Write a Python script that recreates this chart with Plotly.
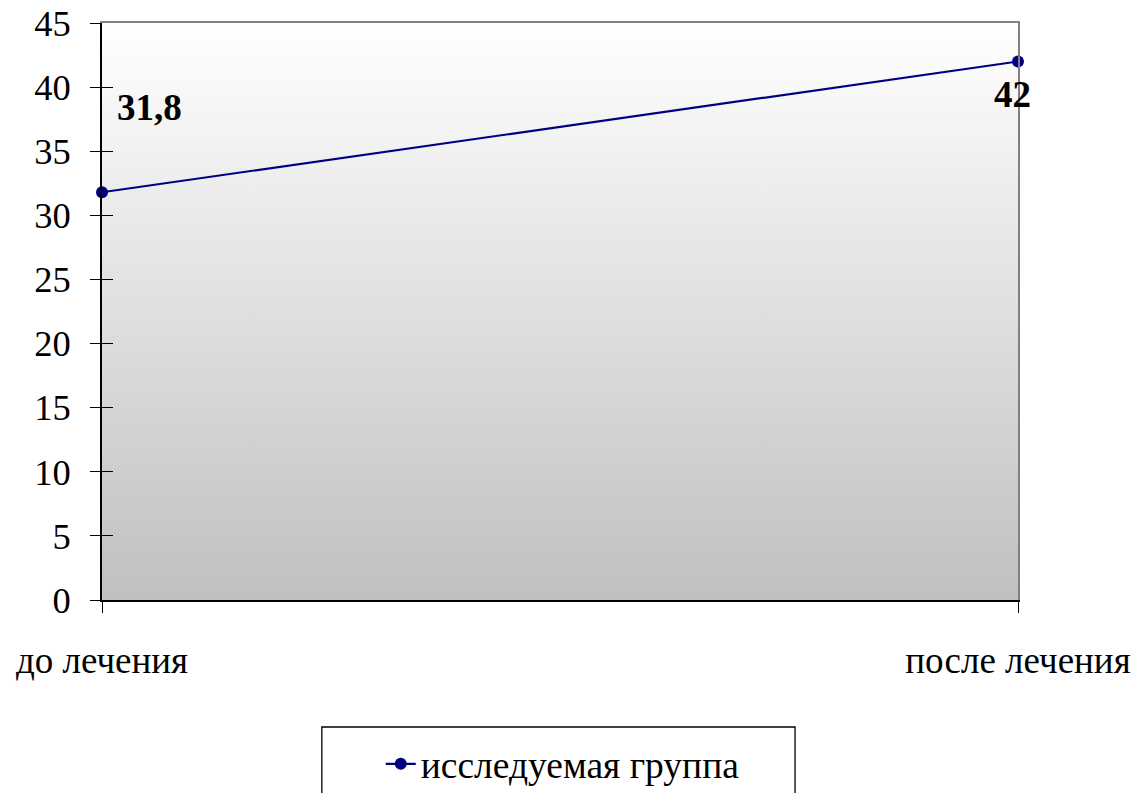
import base64
import plotly.graph_objects as go

categories = ["до лечения", "после лечения"]
values = [31.8, 42]
label_texts = ["31,8", "42"]
series_name = "исследуемая группа"
y_ticks = [0, 5, 10, 15, 20, 25, 30, 35, 40, 45]

FONT = "Liberation Serif, Times New Roman, serif"
NAVY = "#000080"

svg = ('<svg xmlns="http://www.w3.org/2000/svg" width="100" height="100" '
       'preserveAspectRatio="none" viewBox="0 0 100 100">'
       '<defs><linearGradient id="g" x1="0" y1="0" x2="0" y2="1">'
       '<stop offset="0" stop-color="#ffffff"/><stop offset="1" stop-color="#c0c0c0"/>'
       '</linearGradient></defs><rect width="100" height="100" fill="url(#g)"/></svg>')
bg_uri = "data:image/svg+xml;base64," + base64.b64encode(svg.encode()).decode()

fig = go.Figure()

# invisible helper traces so the overlay axes (border + cross ticks) get rendered
fig.add_trace(go.Scatter(x=categories, y=values, xaxis="x2", yaxis="y2",
                         showlegend=False, hoverinfo="skip", mode="markers",
                         marker=dict(opacity=0)))
fig.add_trace(go.Scatter(x=categories, y=values, xaxis="x3", yaxis="y3",
                         showlegend=False, hoverinfo="skip", mode="markers",
                         marker=dict(opacity=0)))

fig.add_trace(go.Scatter(
    x=categories, y=values, mode="lines+markers", name=series_name,
    line=dict(color=NAVY, width=2.2),
    marker=dict(color=NAVY, size=12, symbol="circle"),
    cliponaxis=False,
))

shifts = [(47, 85), (-6, -33)]
for c, v, t, (dx, dy) in zip(categories, values, label_texts, shifts):
    fig.add_annotation(x=c, y=v, text="<b>" + t + "</b>", showarrow=False,
                       xshift=dx, yshift=dy,
                       font=dict(family=FONT, size=37, color="black"))

fig.add_layout_image(source=bg_uri, xref="paper", yref="paper", x=0, y=1,
                     sizex=1, sizey=1, xanchor="left", yanchor="top",
                     sizing="stretch", layer="below")

cat_axis = dict(type="category", categoryorder="array", categoryarray=categories,
                range=[0, 1], showgrid=False, zeroline=False, automargin=False)
val_axis = dict(range=[0, 45], tickvals=y_ticks, showgrid=False, zeroline=False,
                automargin=False)

fig.update_layout(
    width=1133, height=785,
    margin=dict(l=94, r=123, t=15, b=193, autoexpand=False),
    paper_bgcolor="white", plot_bgcolor="rgba(0,0,0,0)",
    font=dict(family=FONT, size=37, color="black"),
    showlegend=True,
    legend=dict(orientation="h", x=0.503, xanchor="center", yref="container",
                y=0.037, yanchor="middle", bgcolor="rgba(0,0,0,0)",
                font=dict(family=FONT, size=37.5, color="black")),
    xaxis=dict(**cat_axis, showline=True, linecolor="black", linewidth=2,
               ticks="outside", ticklen=11, tickcolor="black",
               ticklabelstandoff=16, ticklabeloverflow="allow",
               tickfont=dict(family=FONT, size=37)),
    yaxis=dict(**val_axis, showline=True, linecolor="black", linewidth=2,
               ticks="outside", ticklen=10, tickcolor="black",
               ticklabelstandoff=12, ticklabeloverflow="allow",
               tickfont=dict(family=FONT, size=36.5)),
    xaxis2=dict(**cat_axis, overlaying="x", side="top", anchor="y2",
                showline=True, linecolor="#808080", linewidth=2,
                showticklabels=False, ticks=""),
    yaxis2=dict(**val_axis, overlaying="y", side="right", anchor="x2",
                showline=True, linecolor="#808080", linewidth=2,
                showticklabels=False, ticks=""),
    xaxis3=dict(**cat_axis, overlaying="x", side="bottom", anchor="y3",
                showline=False, showticklabels=False, ticks="inside",
                ticklen=11, tickcolor="black", layer="above traces"),
    yaxis3=dict(**val_axis, overlaying="y", side="left", anchor="x3",
                showline=False, showticklabels=False, ticks="inside",
                ticklen=11, tickcolor="black", layer="above traces"),
)

# legend frame
fig.add_shape(type="rect", xref="paper", yref="paper",
              x0=0.240, x1=0.7566, y0=-0.36, y1=-0.2201,
              line=dict(color="black", width=1.3), fillcolor="rgba(0,0,0,0)")

fig.write_html("out.html")
